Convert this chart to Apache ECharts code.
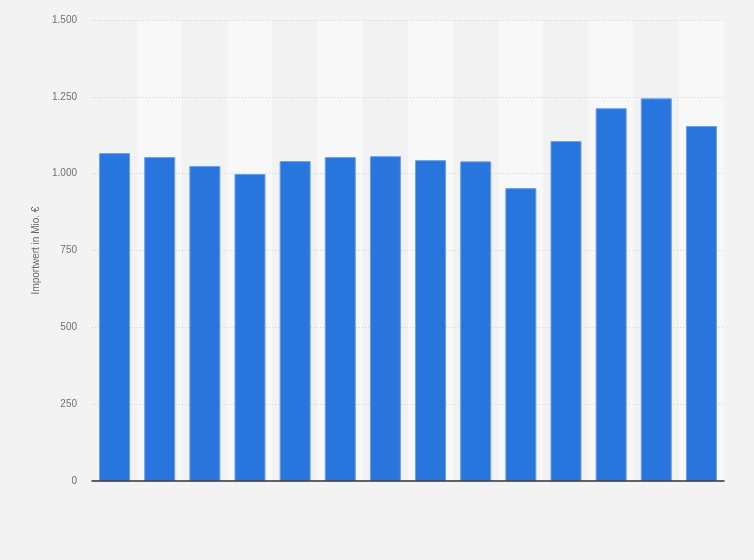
<!DOCTYPE html>
<html>
<head>
<meta charset="utf-8">
<script src="https://cdn.jsdelivr.net/npm/echarts@6/dist/echarts.min.js"></script>
<style>
html,body{margin:0;padding:0;background:#f3f3f3;}
#chart{width:754px;height:560px;}
</style>
</head>
<body>
<div id="chart"></div>
<script>
const categories = ['2008','2009','2010','2011','2012','2013','2014','2015','2016','2017','2018','2019','2020','2021'];
const values = [1067, 1054, 1025, 999, 1041, 1054, 1057, 1044, 1040, 953, 1106, 1213, 1245, 1155];
const yTicks = { min: 0, max: 1500, interval: 250 };
const yAxisName = 'Importwert in Mio. €';

const chart = echarts.init(document.getElementById('chart'));
chart.setOption({
  backgroundColor: '#f3f3f3',
  animation: false,
  grid: { left: 92, right: 30, top: 20, bottom: 79, containLabel: false },
  xAxis: [{
    type: 'category',
    data: categories,
    z: 0,
    axisLine: { show: false },
    axisTick: { show: false },
    axisLabel: { show: false },
    splitArea: { show: true, areaStyle: { color: ['#f2f2f2', '#f8f8f8'] } }
  }, {
    type: 'category',
    data: categories,
    position: 'bottom',
    z: 5,
    axisLine: { show: true, lineStyle: { color: '#333', width: 1.5 } },
    axisTick: { show: false },
    axisLabel: { show: false },
    splitArea: { show: false },
    splitLine: { show: false }
  }],
  yAxis: {
    type: 'value',
    z: 1,
    min: yTicks.min,
    max: yTicks.max,
    interval: yTicks.interval,
    name: yAxisName,
    nameLocation: 'middle',
    nameGap: 42,
    nameTextStyle: { color: '#666', fontSize: 10, fontFamily: 'Arial, Liberation Sans, sans-serif' },
    axisLine: { show: false },
    axisTick: { show: false },
    axisLabel: {
      color: '#707070', fontSize: 10, margin: 15,
      fontFamily: 'Arial, Liberation Sans, sans-serif',
      formatter: v => v.toLocaleString('de-DE')
    },
    splitLine: { show: true, showMinLine: false, lineStyle: { color: '#d0d0d0', type: [1, 2], width: 1 } }
  },
  series: [{
    type: 'bar',
    data: values,
    barWidth: 31,
    z: 2,
    itemStyle: { color: '#2876dd', borderColor: '#6a9fe6', borderWidth: 1 }
  }]
});
</script>
</body>
</html>
